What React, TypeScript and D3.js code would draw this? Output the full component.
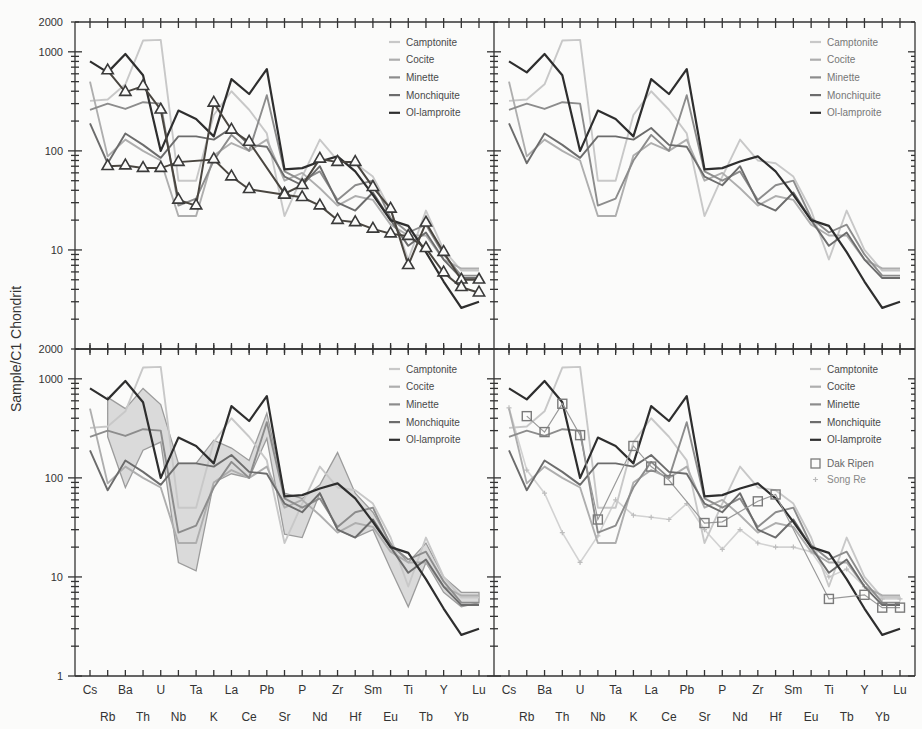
import * as d3 from "d3";
import { useEffect, useRef } from "react";

const elements = ["Cs", "Rb", "Ba", "Th", "U", "Nb", "Ta", "K", "La", "Ce", "Pb", "Sr", "P", "Nd", "Zr", "Hf", "Sm", "Eu", "Ti", "Tb", "Y", "Yb", "Lu"];

// reference rock types (chondrite-normalised)
const camptonite = [320, 330, 470, 1300, 1320, 50, 50, 230, 400, 260, 150, 22, 55, 130, 80, 75, 55, 25, 8, 25, 10, 6.2, 6.2];
const cocite = [500, 88, 130, 100, 80, 22, 22, 90, 120, 100, 130, 50, 60, 42, 28, 35, 32, 18, 14, 14, 8, 6.5, 6.5];
const minette = [260, 300, 265, 310, 300, 28, 33, 80, 145, 100, 365, 62, 50, 62, 32, 45, 50, 21, 15, 18, 9, 5.5, 5.5];
const monchiquite = [190, 75, 150, 115, 85, 140, 140, 130, 170, 115, 110, 55, 45, 70, 30, 25, 38, 20, 11, 15, 8, 5.2, 5.2];
const olLamproite = [800, 620, 950, 580, 100, 255, 210, 140, 530, 375, 670, 65, 67, 78, 88, 62, 36, 20, 17.5, 9.5, 4.8, 2.6, 3.0];

// samples with triangles (top-left panel)
const sampleA = [null, 647, 392, 450, 260, 32, 28, 305, 163, 123, null, 37, 45, 83, 77, 77, 43, 26, 7, 18.8, 9.5, 5.0, 5.0];
const sampleB = [null, 70, 71, 67, 67, 77, null, 82, 55, 41, null, 36, 34, 28, 20, 19, 16.3, 14.6, 13.8, 10.4, 5.9, 4.2, 3.7];

// envelope of samples (bottom-left panel)
const envUpper = [null, 650, 500, 800, 550, 140, 140, 240, 200, 150, 450, 70, 62, 85, 180, 70, 45, 22, 14, 22, 10, 7, 7];
const envLower = [null, 260, 80, 190, 230, 14, 11.5, 90, 110, 100, 250, 27, 25, 70, 30, 25, 30, 12, 5, 14, 7, 5, 5.5];

// comparison data (bottom-right panel)
const dakRipen = [null, 420, 290, 560, 270, 38, null, 210, 130, 95, null, 35, 36, null, 58, 68, null, null, 6, null, 6.6, 4.9, 4.9];
const songRe = [510, 120, 70, 28, 14, 26, 60, 42, 40, 38, 55, 30, 19, 30, 22, 20, 20, 18, 10, 12, 8, 6, 6];

const seriesNames = ["Camptonite", "Cocite", "Minette", "Monchiquite", "Ol-lamproite"];
const seriesValues = [camptonite, cocite, minette, monchiquite, olLamproite];
const yTickLabels = [2000, 1000, 100, 10, 1];

const seriesColors = ["#c8c8c8", "#aeaeae", "#8c8c8c", "#6c6c6c", "#2e2e2e"];
const FONT = "'Liberation Sans', Arial, sans-serif";

const W = 922;
const H = 729;
const colX = [75, 494, 915];
const rowY = [22, 349, 676];

export default function App() {
  const ref = useRef<SVGSVGElement>(null);

  useEffect(() => {
    if (!ref.current) return;
    const svg = d3.select(ref.current);
    svg.selectAll("*").remove();
    svg.append("rect").attr("width", W).attr("height", H).attr("fill", "#fbfbfa");

    const panels = [
      { col: 0, row: 0, kind: "triangles" },
      { col: 1, row: 0, kind: "plain" },
      { col: 0, row: 1, kind: "envelope" },
      { col: 1, row: 1, kind: "compare" },
    ];

    panels.forEach(p => {
      const x0 = colX[p.col];
      const x1 = colX[p.col + 1];
      const top = rowY[p.row];
      const bottom = rowY[p.row + 1];
      const x = d3.scalePoint<string>().domain(elements).range([x0 + 15, x1 - 15]);
      const y = d3.scaleLog().domain([1, 2000]).range([bottom, top]);
      const g = svg.append("g");

      const line = d3
        .line<number | null>()
        .defined(d => d != null)
        .x((_, i) => x(elements[i]) as number)
        .y(d => y(d as number));
      const pts = (vals: (number | null)[]) =>
        vals.map((v, i) => ({ v, e: elements[i] })).filter(d => d.v != null) as { v: number; e: string }[];
      const lineOf = (vals: (number | null)[]) =>
        d3
          .line<{ v: number; e: string }>()
          .x(d => x(d.e) as number)
          .y(d => y(d.v))(pts(vals));

      if (p.kind === "envelope") {
        const env = elements
          .map((e, i) => ({ e, lo: envLower[i], hi: envUpper[i] }))
          .filter(d => d.lo != null && d.hi != null) as { e: string; lo: number; hi: number }[];
        g.append("path")
          .attr(
            "d",
            d3
              .area<{ e: string; lo: number; hi: number }>()
              .x(d => x(d.e) as number)
              .y0(d => y(d.lo))
              .y1(d => y(d.hi))(env)
          )
          .attr("fill", "#c4c4c4")
          .attr("fill-opacity", 0.6)
          .attr("stroke", "#9c9c9c")
          .attr("stroke-width", 1.3);
      }

      if (p.kind === "compare") {
        g.append("path")
          .attr("d", lineOf(songRe))
          .attr("fill", "none")
          .attr("stroke", "#d2d2d2")
          .attr("stroke-width", 1.6);
        pts(songRe).forEach(d => {
          const cx = x(d.e) as number;
          const cy = y(d.v);
          g.append("path")
            .attr("d", `M${cx - 2.5},${cy}H${cx + 2.5}M${cx},${cy - 2.5}V${cy + 2.5}`)
            .attr("stroke", "#bdbdbd")
            .attr("stroke-width", 1.2);
        });
      }

      seriesValues.forEach((vals, i) => {
        g.append("path")
          .attr("d", line(vals) as string)
          .attr("fill", "none")
          .attr("stroke", seriesColors[i])
          .attr("stroke-width", i === 4 ? 2.2 : 1.9)
          .attr("stroke-linejoin", "round");
      });

      if (p.kind === "triangles") {
        [sampleA, sampleB].forEach(vals => {
          g.append("path")
            .attr("d", lineOf(vals))
            .attr("fill", "none")
            .attr("stroke", "#4a4640")
            .attr("stroke-width", 2);
        });
        [sampleA, sampleB].forEach(vals => {
          pts(vals).forEach(d => {
            g.append("path")
              .attr("d", d3.symbol(d3.symbolTriangle, 55)() as string)
              .attr("transform", `translate(${x(d.e)},${y(d.v)})`)
              .attr("fill", "#fbfbfa")
              .attr("stroke", "#3a3a3a")
              .attr("stroke-width", 1.6);
          });
        });
      }

      if (p.kind === "compare") {
        g.append("path")
          .attr("d", lineOf(dakRipen))
          .attr("fill", "none")
          .attr("stroke", "#999")
          .attr("stroke-width", 1.2);
        pts(dakRipen).forEach(d => {
          g.append("rect")
            .attr("x", (x(d.e) as number) - 4.5)
            .attr("y", y(d.v) - 4.5)
            .attr("width", 9)
            .attr("height", 9)
            .attr("fill", "none")
            .attr("stroke", "#7a7a7a")
            .attr("stroke-width", 1.4);
        });
      }

      // legend
      const lx = x1 - 105;
      const ly = top + 20;
      seriesNames.forEach((name, i) => {
        const yy = ly + i * 17.7;
        g.append("line")
          .attr("x1", lx)
          .attr("x2", lx + 11)
          .attr("y1", yy)
          .attr("y2", yy)
          .attr("stroke", seriesColors[i])
          .attr("stroke-width", 2.2);
        g.append("text")
          .attr("x", lx + 17)
          .attr("y", yy + 3.5)
          .attr("font-family", FONT)
          .attr("font-size", 10)
          .attr("fill", p.col === 1 && p.row === 0 ? "#777" : "#4a4a4a")
          .text(name);
      });
      if (p.kind === "compare") {
        const y1 = ly + 5 * 17.7 + 6;
        g.append("rect")
          .attr("x", lx + 1)
          .attr("y", y1 - 4.5)
          .attr("width", 9)
          .attr("height", 9)
          .attr("fill", "none")
          .attr("stroke", "#7a7a7a")
          .attr("stroke-width", 1.3);
        g.append("text")
          .attr("x", lx + 17)
          .attr("y", y1 + 3.5)
          .attr("font-family", FONT)
          .attr("font-size", 10)
          .attr("fill", "#666")
          .text("Dak Ripen");
        const y2 = y1 + 16;
        g.append("path")
          .attr("d", `M${lx + 3},${y2}H${lx + 8}M${lx + 5.5},${y2 - 2.5}V${y2 + 2.5}`)
          .attr("stroke", "#bbb")
          .attr("stroke-width", 1.2);
        g.append("text")
          .attr("x", lx + 17)
          .attr("y", y2 + 3.5)
          .attr("font-family", FONT)
          .attr("font-size", 10)
          .attr("fill", "#888")
          .text("Song Re");
      }

      // frame
      const frame = svg.append("g").attr("stroke", "#333").attr("stroke-width", 1.3);
      frame.append("line").attr("x1", x0).attr("x2", x1).attr("y1", top).attr("y2", top);
      frame.append("line").attr("x1", x0).attr("x2", x1).attr("y1", bottom).attr("y2", bottom);
      frame.append("line").attr("x1", x0).attr("x2", x0).attr("y1", top).attr("y2", bottom);
      if (p.col === 1) frame.append("line").attr("x1", x1).attr("x2", x1).attr("y1", top).attr("y2", bottom);

      // element ticks on top and bottom edges
      elements.forEach(e => {
        const xx = x(e) as number;
        frame.append("line").attr("x1", xx).attr("x2", xx).attr("y1", top - 4).attr("y2", top + 6);
        frame.append("line").attr("x1", xx).attr("x2", xx).attr("y1", bottom - 6).attr("y2", bottom + (p.row === 1 ? 0 : 4));
      });

      // log ticks
      const logTicks: { v: number; major: boolean }[] = [];
      for (let k = 0; k < 4; k++) {
        for (let m = 1; m < 10; m++) {
          const v = m * Math.pow(10, k);
          if (v > 2000 || (v === 1 && p.row === 0)) continue;
          logTicks.push({ v, major: m === 1 });
        }
      }
      logTicks.forEach(t => {
        const yy = y(t.v);
        const len = t.major ? 7 : 4;
        frame.append("line").attr("x1", x0 - len).attr("x2", x0 + len).attr("y1", yy).attr("y2", yy);
        if (p.col === 1) frame.append("line").attr("x1", x1 - len).attr("x2", x1).attr("y1", yy).attr("y2", yy);
      });

      if (p.col === 0) {
        yTickLabels
          .filter(v => !(p.row === 0 && v === 1))
          .forEach(v => {
            svg
              .append("text")
              .attr("x", x0 - 12)
              .attr("y", y(v) + 4)
              .attr("text-anchor", "end")
              .attr("font-family", FONT)
              .attr("font-size", 11)
              .attr("fill", "#333")
              .text(v);
          });
      }

      if (p.row === 1) {
        elements.forEach((e, i) => {
          svg
            .append("text")
            .attr("x", x(e) as number)
            .attr("y", i % 2 === 0 ? 694 : 721)
            .attr("text-anchor", "middle")
            .attr("font-family", FONT)
            .attr("font-size", 12)
            .attr("fill", "#333")
            .text(e);
        });
      }
    });

    svg
      .append("text")
      .attr("transform", `translate(21, 349) rotate(-90)`)
      .attr("text-anchor", "middle")
      .attr("font-family", FONT)
      .attr("font-size", 14)
      .attr("fill", "#333")
      .text("Sample/C1 Chondrit");
  }, []);

  return (
    <svg
      ref={ref}
      width={W}
      height={H}
      viewBox={`0 0 ${W} ${H}`}
      style={{ position: "absolute", left: 0, top: 0, display: "block" }}
    />
  );
}
